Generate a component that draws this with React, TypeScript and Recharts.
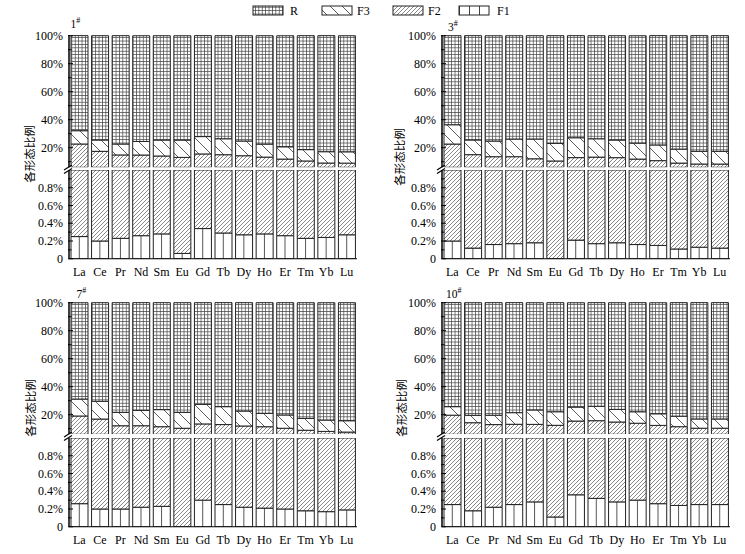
import React from 'react';
import { BarChart, Bar, XAxis, YAxis } from 'recharts';

const elements = ['La', 'Ce', 'Pr', 'Nd', 'Sm', 'Eu', 'Gd', 'Tb', 'Dy', 'Ho', 'Er', 'Tm', 'Yb', 'Lu'];

// Sample 1#
const f1_s1 = [0.25, 0.2, 0.23, 0.26, 0.28, 0.06, 0.34, 0.29, 0.27, 0.28, 0.26, 0.23, 0.24, 0.27];
const f2_s1 = [22.4, 17.2, 14.6, 14.5, 13.8, 13.0, 15.2, 14.7, 14.0, 13.0, 11.6, 10.3, 8.8, 8.7];
const f3_s1 = [9.5, 8.1, 7.8, 9.7, 11.4, 12.4, 12.4, 11.4, 10.5, 9.3, 8.8, 8.1, 8.1, 8.1];
const r_s1 = [67.9, 74.5, 77.4, 75.5, 74.5, 74.5, 72.1, 73.6, 75.2, 77.4, 79.3, 81.4, 82.9, 82.9];

// Sample 3#
const f1_s3 = [0.2, 0.12, 0.16, 0.17, 0.18, 0, 0.21, 0.17, 0.18, 0.16, 0.15, 0.11, 0.13, 0.12];
const f2_s3 = [22.4, 14.9, 13.4, 13.4, 11.9, 10.5, 12.7, 13.1, 12.7, 11.7, 10.6, 8.9, 8.2, 8.2];
const f3_s3 = [13.8, 10.5, 11.2, 12.6, 14.1, 12.6, 14.2, 13.1, 12.6, 11.4, 11.2, 10.0, 9.1, 9.1];
const r_s3 = [63.6, 74.5, 75.2, 73.8, 73.8, 76.9, 72.9, 73.6, 74.5, 76.7, 78.1, 81.0, 82.6, 82.6];

// Sample 7#
const f1_s7 = [0.26, 0.2, 0.2, 0.22, 0.23, 0, 0.3, 0.25, 0.22, 0.21, 0.2, 0.18, 0.17, 0.19];
const f2_s7 = [18.8, 16.7, 11.9, 11.9, 11.2, 10.3, 13.1, 12.7, 11.7, 11.2, 10.1, 8.7, 7.9, 7.4];
const f3_s7 = [12.1, 12.7, 9.6, 11.0, 12.2, 11.4, 14.0, 12.8, 10.7, 9.6, 9.5, 8.5, 8.1, 8.1];
const r_s7 = [68.8, 70.4, 78.3, 76.9, 76.4, 78.3, 72.6, 74.3, 77.4, 79.0, 80.2, 82.6, 83.8, 84.3];

// Sample 10#
const f1_s10 = [0.25, 0.18, 0.22, 0.25, 0.28, 0.11, 0.36, 0.32, 0.28, 0.3, 0.26, 0.24, 0.25, 0.25];
const f2_s10 = [19.4, 14.1, 12.7, 12.9, 12.8, 12.3, 15.1, 15.4, 14.5, 13.6, 12.1, 11.2, 10.1, 10.1];
const f3_s10 = [6.1, 5.3, 6.7, 8.3, 10.3, 9.7, 10.0, 10.3, 9.0, 8.2, 8.3, 7.5, 6.6, 6.6];
const r_s10 = [74.3, 80.4, 80.4, 78.6, 76.6, 77.9, 74.5, 74.0, 76.2, 77.9, 79.3, 81.1, 83.1, 83.1];

const upperTicks = [10, 20, 30, 40, 50, 60, 70, 80, 90, 100];
const lowerTicks = [0, 0.1, 0.2, 0.3, 0.4, 0.5, 0.6, 0.7, 0.8, 0.9];
const legendItems = ['R', 'F3', 'F2', 'F1'];

const SERIF = '"Liberation Serif", "Times New Roman", serif';
const CJK = '"Noto Sans CJK SC", "Noto Sans CJK JP", sans-serif';

const AXIS_W = 69;
const PLOT_W = 288;
const M_TOP = 8;
const M_RIGHT = 6;
const UP_PX = 1.4;
const LO_PX = 88.75;
const TICK_MARGIN = 6;
const BAND = PLOT_W / elements.length;

function makeData(f1: number[], f2: number[], f3: number[], r: number[]) {
  return elements.map((name, i) => ({ name, F1: f1[i], F2: f2[i], F3: f3[i], R: r[i] }));
}

const data1 = makeData(f1_s1, f2_s1, f3_s1, r_s1);
const data3 = makeData(f1_s3, f2_s3, f3_s3, r_s3);
const data7 = makeData(f1_s7, f2_s7, f3_s7, r_s7);
const data10 = makeData(f1_s10, f2_s10, f3_s10, r_s10);

function YTick(props: any) {
  const { x, y, payload, kind } = props;
  const v = payload.value;
  const ax = x + TICK_MARGIN;
  let major = false;
  let label: string | null = null;
  if (kind === 'upper') {
    major = Math.round(v) % 20 === 0;
    label = major ? `${Math.round(v)}%` : null;
  } else {
    const k = Math.round(v * 10);
    major = k % 2 === 0;
    label = major ? (k === 0 ? '0' : `${(k / 10).toFixed(1)}%`) : null;
  }
  return (
    <g>
      <line x1={ax - 1} x2={ax + (major ? 4 : 2.5)} y1={y} y2={y} stroke="#000" strokeWidth={1} />
      {label && (
        <text x={x} y={y} dy="0.35em" textAnchor="end" fontSize={12} fontFamily={SERIF} fill="#000">
          {label}
        </text>
      )}
    </g>
  );
}

const BAR_STROKE = '#222';
function renderBars() {
  return [
    <Bar key="F1" dataKey="F1" stackId="s" fill="url(#pF1)" stroke={BAR_STROKE} strokeWidth={1} isAnimationActive={false} />,
    <Bar key="F2" dataKey="F2" stackId="s" fill="url(#pF2)" stroke={BAR_STROKE} strokeWidth={1} isAnimationActive={false} />,
    <Bar key="F3" dataKey="F3" stackId="s" fill="url(#pF3)" stroke={BAR_STROKE} strokeWidth={1} isAnimationActive={false} />,
    <Bar key="R" dataKey="R" stackId="s" fill="url(#pR)" stroke={BAR_STROKE} strokeWidth={1} isAnimationActive={false} />,
  ];
}

type PanelProps = { data: any[]; x0: number; y100: number; y0: number };

function Panel({ data, x0, y100, y0 }: PanelProps) {
  const upTop = y100 - 0.5 * UP_PX;
  const upBot = y100 + 94 * UP_PX;
  const loTop = y0 - LO_PX;
  const chartW = AXIS_W + PLOT_W + M_RIGHT;
  return (
    <>
      <div style={{ position: 'absolute', left: x0 - AXIS_W, top: upTop - M_TOP }}>
        <BarChart
          width={chartW}
          height={M_TOP + (upBot - upTop)}
          data={data}
          margin={{ top: M_TOP, right: M_RIGHT, bottom: 0, left: 0 }}
          barSize={17}
        >
          <XAxis dataKey="name" hide />
          <YAxis
            width={AXIS_W}
            type="number"
            domain={[6, 100.5]}
            allowDataOverflow
            ticks={upperTicks}
            interval={0}
            tickSize={0}
            tickMargin={TICK_MARGIN}
            tickLine={false}
            axisLine={{ stroke: '#000', strokeWidth: 1.5 }}
            tick={(p: any) => <YTick {...p} kind="upper" />}
          />
          {renderBars()}
        </BarChart>
      </div>
      <div style={{ position: 'absolute', left: x0 - AXIS_W, top: loTop - M_TOP }}>
        <BarChart
          width={chartW}
          height={M_TOP + (y0 - loTop) + 25}
          data={data}
          margin={{ top: M_TOP, right: M_RIGHT, bottom: 0, left: 0 }}
          barSize={17}
        >
          <XAxis
            dataKey="name"
            height={25}
            interval={0}
            tickLine={false}
            tickMargin={3}
            axisLine={{ stroke: '#000', strokeWidth: 1 }}
            tick={{ fontSize: 12, fontFamily: SERIF, fill: '#000' }}
          />
          <YAxis
            width={AXIS_W}
            type="number"
            domain={[0, 1]}
            allowDataOverflow
            ticks={lowerTicks}
            interval={0}
            tickSize={0}
            tickMargin={TICK_MARGIN}
            tickLine={false}
            axisLine={{ stroke: '#000', strokeWidth: 1.5 }}
            tick={(p: any) => <YTick {...p} kind="lower" />}
          />
          {renderBars()}
        </BarChart>
      </div>
    </>
  );
}

function BreakMark({ x0, y100, y0 }: { x0: number; y100: number; y0: number }) {
  const upBot = y100 + 94 * UP_PX;
  const loTop = y0 - LO_PX;
  const gy = (upBot + loTop) / 2;
  return (
    <g stroke="#000" strokeWidth={1.2}>
      <line x1={x0 - 5} y1={gy + 1} x2={x0 + 3} y2={gy - 4} />
      <line x1={x0 - 5} y1={gy + 4.5} x2={x0 + 3} y2={gy - 0.5} />
    </g>
  );
}

function Title({ x, y, main }: { x: number; y: number; main: string }) {
  return (
    <text x={x} y={y} fontSize={11.5} fontFamily={SERIF} fill="#000">
      {main}
      <tspan fontSize={8} dy={-5}>#</tspan>
    </text>
  );
}

function YLabel({ x, y }: { x: number; y: number }) {
  return (
    <text
      transform={`translate(${x},${y}) rotate(-90)`}
      textAnchor="middle"
      dominantBaseline="central"
      fontSize={11.5}
      fontFamily={CJK}
      fill="#000"
    >
      各形态比例
    </text>
  );
}

const legendPos = [
  { bx: 253, tx: 290 },
  { bx: 322, tx: 357 },
  { bx: 393, tx: 428 },
  { bx: 459, tx: 497 },
];
const legendFill: Record<string, string> = { R: 'url(#pR)', F3: 'url(#pF3)', F2: 'url(#pF2)', F1: 'url(#pF1L)' };

export default function App() {
  const panels = [
    { data: data1, x0: 69, y100: 36, y0: 259 },
    { data: data3, x0: 442, y100: 36, y0: 259 },
    { data: data7, x0: 69, y100: 302.7, y0: 526.5 },
    { data: data10, x0: 442, y100: 302.7, y0: 526.5 },
  ];
  return (
    <div style={{ position: 'absolute', left: 0, top: 0, width: 745, height: 554, background: '#fff', overflow: 'hidden' }}>
      {panels.map((p, i) => (
        <Panel key={i} data={p.data} x0={p.x0} y100={p.y100} y0={p.y0} />
      ))}
      <svg width={745} height={554} style={{ position: 'absolute', left: 0, top: 0, pointerEvents: 'none' }}>
        <defs>
          <pattern id="pR" patternUnits="userSpaceOnUse" width={3.4} height={3.4}>
            <rect width={3.4} height={3.4} fill="#fff" />
            <path d="M0,0.4 H3.4 M0.4,0 V3.4" stroke="#444" strokeWidth={0.75} />
          </pattern>
          <pattern id="pF3" patternUnits="userSpaceOnUse" width={12} height={12}>
            <rect width={12} height={12} fill="#fff" />
            <path d="M0,0 L12,12 M-1,11 L1,13 M11,-1 L13,1" stroke="#333" strokeWidth={0.8} />
          </pattern>
          <pattern id="pF2" patternUnits="userSpaceOnUse" width={4} height={4}>
            <rect width={4} height={4} fill="#fff" />
            <path d="M0,4 L4,0 M-1,1 L1,-1 M3,5 L5,3" stroke="#555" strokeWidth={0.7} />
          </pattern>
          <pattern id="pF1" patternUnits="userSpaceOnUse" x={AXIS_W + BAND / 2 - 0.5} y={0} width={BAND} height={600}>
            <rect x={0} y={0} width={BAND} height={600} fill="#fff" />
            <rect x={0} y={0} width={1} height={600} fill="#555" />
          </pattern>
          <pattern id="pF1L" patternUnits="userSpaceOnUse" x={459} y={0} width={10} height={600}>
            <rect x={0} y={0} width={10} height={600} fill="#fff" />
            <rect x={0} y={0} width={1} height={600} fill="#444" />
          </pattern>
        </defs>
        {panels.map((p, i) => (
          <BreakMark key={i} x0={p.x0} y100={p.y100} y0={p.y0} />
        ))}
        <Title x={70.5} y={27.5} main="1" />
        <Title x={448} y={31} main="3" />
        <Title x={76.5} y={297.5} main="7" />
        <Title x={446} y={297.5} main="10" />
        <YLabel x={29} y={154} />
        <YLabel x={399} y={157} />
        <YLabel x={30} y={408} />
        <YLabel x={401} y={408} />
        {legendItems.map((name, i) => (
          <g key={name}>
            <rect x={legendPos[i].bx} y={6} width={30} height={9} fill={legendFill[name]} stroke="#222" strokeWidth={1} />
            <text x={legendPos[i].tx} y={15} fontSize={12} fontFamily={SERIF} fill="#000">
              {name}
            </text>
          </g>
        ))}
      </svg>
    </div>
  );
}
